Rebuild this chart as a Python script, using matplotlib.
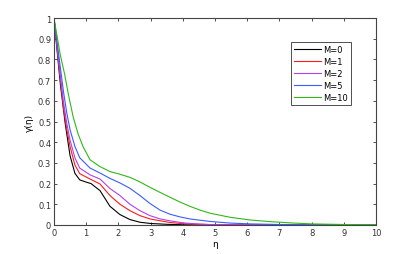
import matplotlib
matplotlib.use("Agg")
import matplotlib.pyplot as plt

labels = ["M=0", "M=1", "M=2", "M=5", "M=10"]
colors = ["#000000", "#ff1a1a", "#b040f0", "#3a5cff", "#30b818"]

eta_m0 = [0, 0.1, 0.2, 0.35, 0.5, 0.65, 0.8, 1.0, 1.15, 1.43, 1.74, 2.05, 2.36, 2.67, 3.0, 3.5, 4.0, 5.0, 10.0]
g_m0 = [1, 0.84, 0.68, 0.49, 0.335, 0.25, 0.218, 0.207, 0.2, 0.166, 0.09, 0.05, 0.026, 0.013, 0.007, 0.003, 0.001, 0.0, 0.0]

eta_m1 = [0, 0.1, 0.2, 0.3, 0.4, 0.5, 0.65, 0.8, 1.12, 1.43, 1.74, 2.05, 2.36, 2.67, 2.98, 3.3, 3.6, 4.0, 5.0, 10.0]
g_m1 = [1, 0.85, 0.70, 0.56, 0.46, 0.38, 0.29, 0.248, 0.222, 0.198, 0.142, 0.10, 0.069, 0.045, 0.029, 0.02, 0.012, 0.006, 0.001, 0.0]

eta_m2 = [0, 0.1, 0.2, 0.3, 0.4, 0.5, 0.65, 0.8, 1.12, 1.43, 1.74, 2.05, 2.36, 2.67, 2.98, 3.3, 3.6, 4.0, 4.5, 5.0, 10.0]
g_m2 = [1, 0.86, 0.72, 0.59, 0.49, 0.41, 0.325, 0.275, 0.242, 0.222, 0.176, 0.142, 0.10, 0.069, 0.045, 0.029, 0.02, 0.01, 0.004, 0.001, 0.0]

eta_m5 = [0, 0.1, 0.2, 0.3, 0.4, 0.5, 0.65, 0.8, 1.12, 1.43, 1.74, 2.05, 2.36, 2.67, 2.98, 3.29, 3.6, 3.91, 4.22, 4.84, 5.47, 6.1, 7.0, 10.0]
g_m5 = [1, 0.88, 0.76, 0.64, 0.54, 0.46, 0.38, 0.325, 0.275, 0.251, 0.225, 0.203, 0.177, 0.142, 0.104, 0.072, 0.052, 0.039, 0.029, 0.017, 0.009, 0.005, 0.002, 0.0]

eta_m10 = [0, 0.1, 0.2, 0.33, 0.45, 0.6, 0.75, 0.9, 1.12, 1.43, 1.74, 2.05, 2.36, 2.67, 2.98, 3.3, 3.6, 3.91, 4.22, 4.53, 4.84, 5.47, 6.09, 6.7, 7.33, 8.0, 9.0, 10.0]
g_m10 = [1, 0.91, 0.82, 0.73, 0.63, 0.52, 0.44, 0.38, 0.315, 0.282, 0.258, 0.245, 0.23, 0.208, 0.182, 0.157, 0.134, 0.111, 0.09, 0.072, 0.057, 0.037, 0.024, 0.016, 0.01, 0.005, 0.002, 0.001]

etas = [eta_m0, eta_m1, eta_m2, eta_m5, eta_m10]
gammas = [g_m0, g_m1, g_m2, g_m5, g_m10]

xticks = list(range(0, 11))
yticks = [0, 0.1, 0.2, 0.3, 0.4, 0.5, 0.6, 0.7, 0.8, 0.9, 1]
ytick_labels = ["0", "0.1", "0.2", "0.3", "0.4", "0.5", "0.6", "0.7", "0.8", "0.9", "1"]

plt.rcParams['font.family'] = ['DejaVu Sans']
fig = plt.figure(figsize=(4.15, 2.55), dpi=100)
ax = fig.add_axes([0.130, 0.114, 0.776, 0.811])

for x, y, c, lab in zip(etas, gammas, colors, labels):
    ax.plot(x, y, color=c, lw=0.8, label=lab)

ax.set_xlim(0, 10)
ax.set_ylim(0, 1)
ax.set_xticks(xticks)
ax.set_xticklabels([str(t) for t in xticks])
ax.set_yticks(yticks)
ax.set_yticklabels(ytick_labels)
ax.tick_params(direction='in', top=True, right=True, length=2.5, width=0.6,
               labelsize=6, colors='#333333', pad=2)
for s in ax.spines.values():
    s.set_linewidth(0.8)
    s.set_color('#444444')
ax.set_xlabel('η', fontsize=6.5, labelpad=2)
ax.set_ylabel('γ(η)', fontsize=6.5, labelpad=3)

leg = ax.legend(loc='upper left', bbox_to_anchor=(0.735, 0.885), fontsize=6,
                frameon=True, fancybox=False, edgecolor='#222222',
                handlelength=3.2, handletextpad=0.3, borderpad=0.4,
                labelspacing=0.35, borderaxespad=0)
leg.get_frame().set_linewidth(0.7)

fig.savefig('out.png', dpi=100)
